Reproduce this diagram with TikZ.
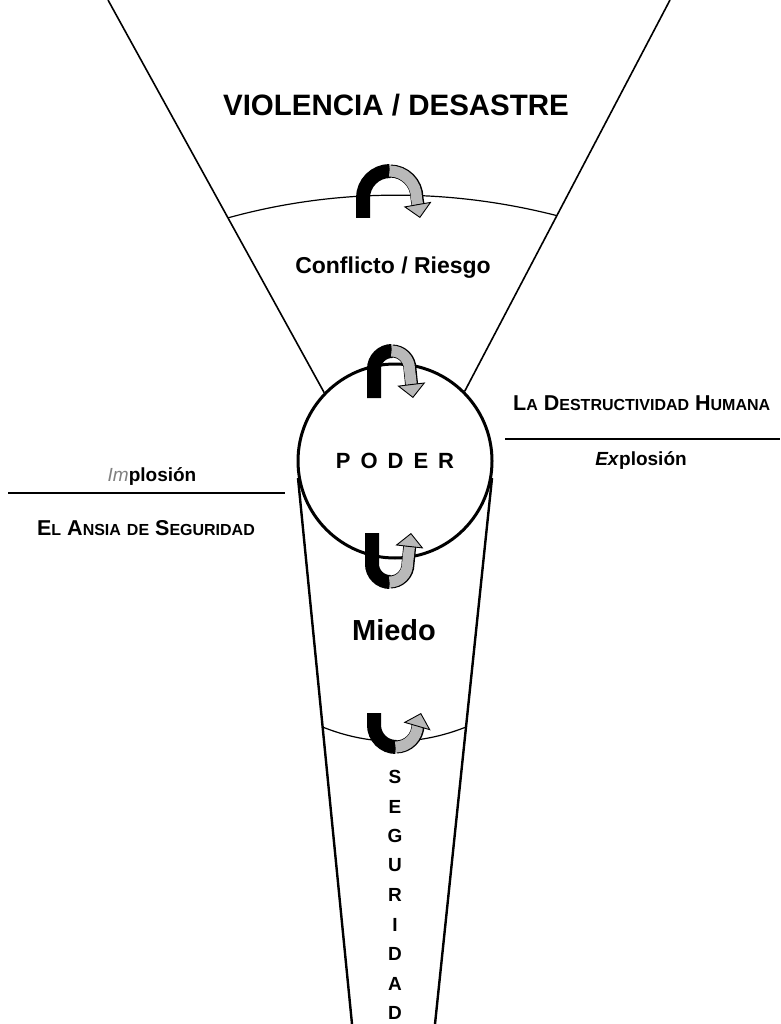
\documentclass[tikz,border=0pt]{standalone}
\usepackage{fontspec}
\setmainfont{Liberation Sans}
\usetikzlibrary{arrows.meta,calc}

\tikzstyle{title} = [font=\fontsize{29.5}{32}\selectfont\bfseries, inner sep=0pt]
\tikzstyle{stage} = [font=\fontsize{23}{26}\selectfont\bfseries, inner sep=0pt]
\tikzstyle{core} = [circle, draw, line width=3pt, minimum size=194pt, inner sep=0pt,
    font=\fontsize{22}{24}\selectfont\bfseries]
\tikzstyle{side} = [font=\fontsize{19}{22}\selectfont\bfseries, inner sep=0pt]
\tikzstyle{caps} = [font=\fontsize{21.5}{24}\selectfont\bfseries, inner sep=0pt]
\tikzstyle{letter} = [font=\fontsize{19}{20}\selectfont\bfseries, inner sep=0pt]
\tikzstyle{funnel} = [draw, line width=1.6pt]
\tikzstyle{stem} = [draw, line width=2.4pt]
\tikzstyle{rim} = [draw, line width=1.2pt]
\tikzstyle{rule} = [draw, line width=1.5pt]

\newcommand\lc[1]{{\fontsize{16}{18}\selectfont #1}}

% turning arrow: #1 radius, #2 leg length
\tikzset{pics/uturn/.style 2 args={code={
    \draw[line width=14pt] (-#1,-#2) -- (-#1,0) arc[start angle=180, end angle=90, radius=#1];
    \draw[line width=13pt, shorten >=11pt] (0,#1) arc[start angle=90, end angle=0, radius=#1] -- (#1+3,-#2);
    \draw[line width=11pt, gray!55,
      -{Triangle[length=14pt, width=28pt, color=black, fill=gray!55, line width=0.9pt]}]
      (-0.5,#1) arc[start angle=90, end angle=0, radius=#1] -- (#1+3,-#2);
}}}

\begin{document}
\begin{tikzpicture}[x=1pt, y=1pt]
    \path[use as bounding box, fill=white] (0,0) rectangle (780,-1024);

    \node [title] (violencia) at (396,-105) {VIOLENCIA / DESASTRE};
    \node [stage] (conflicto) at (393,-268) {Conflicto / Riesgo};
    \node [core] (poder) at (395,-461) {P\hspace{10pt}O\hspace{10pt}D\hspace{10pt}E\hspace{10pt}R};
    \node [stage, font=\fontsize{29}{32}\selectfont\bfseries] (miedo) at (394,-630) {Miedo};
    \node [side] (implosion) at (152,-476) {{\color{gray}\mdseries\itshape Im}plosión};
    \node [side] (explosion) at (641,-460) {\textit{Ex}plosión};
    \node [caps] (ansia) at (146,-528) {E\lc{L} A\lc{NSIA} \lc{DE} S\lc{EGURIDAD}};
    \node [caps, anchor=west] (destruct) at (513,-403) {L\lc{A} D\lc{ESTRUCTIVIDAD} H\lc{UMANA}};
    \foreach \l [count=\i] in {S,E,G,U,R,I,D,A,D}
        \node [letter] (seg\i) at (395,{-777-29.5*(\i-1)}) {\l};

    % funnel
    \coordinate (vl) at (108,0);
    \coordinate (vr) at (670,0);
    \coordinate (sl) at (352,-1024);
    \coordinate (sr) at (435,-1024);
    \path [funnel] (vl) -- (poder.136);
    \path [funnel] (vr) -- (poder.45);
    \path [stem] (poder.190) -- (sl);
    \path [stem] (poder.-10) -- (sr);
    \path [rim] ($(vl)!0.555!(poder.136)$) .. controls (336,-188) and (449,-188) .. ($(vr)!0.551!(poder.45)$);
    \path [rim] ($(poder.190)!0.456!(sl)$) .. controls (370,-746) and (418,-746) .. ($(poder.-10)!0.456!(sr)$);

    % side rules
    \coordinate (il) at (8,-493);
    \coordinate (ir) at (285,-493);
    \coordinate (el) at (505,-439);
    \coordinate (er) at (780,-439);
    \path [rule] (il) -- (ir);
    \path [rule] (el) -- (er);

    % turning arrows
    \pic at (390,-198) {uturn={27}{20}};
    \pic at (392,-369) {uturn={18}{29}};
    \pic [yscale=-1] at (390,-564) {uturn={18}{31}};
    \pic [yscale=-1] at (396,-725) {uturn={22}{12}};

\end{tikzpicture}
\end{document}
